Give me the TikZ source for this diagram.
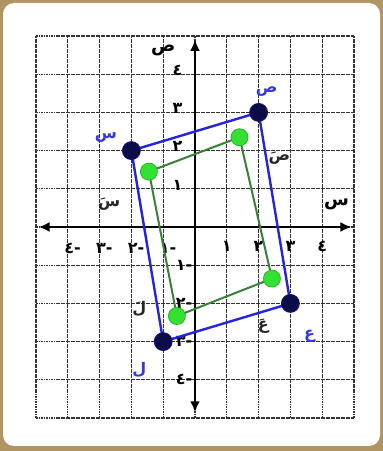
\documentclass[tikz,border=0pt]{standalone}
\usepackage{fontspec}
\usepackage{tikz}
\usetikzlibrary{arrows.meta}
\TeXXeTstate=1
\newfontfamily\arabicfont[Script=Arabic]{DejaVu Sans Bold}
\newcommand{\artext}[1]{{\arabicfont\beginR #1\endR}}
\definecolor{framebrown}{RGB}{176,148,98}
\definecolor{polyblue}{RGB}{35,35,225}
\definecolor{labelblue}{RGB}{55,55,220}
\definecolor{polygreen}{RGB}{55,130,55}
\definecolor{ptgreen}{RGB}{50,225,50}
\definecolor{ptnavy}{RGB}{12,12,70}

\begin{document}
\begin{tikzpicture}[
			x=1pt, y=1pt,
			every node/.style={font=\fontsize{16}{16}\selectfont, inner sep=0pt},
			gridline/.style={draw=black!80, line width=1.3pt, dash pattern=on 1.6pt off 0.9pt},
			axis/.style={{Latex[length=11pt,width=10pt]}-{Latex[length=11pt,width=10pt]}, line width=2.3pt},
			bluepoly/.style={draw=polyblue, line width=2.4pt, line join=round},
			greenpoly/.style={draw=polygreen, line width=2pt, line join=round},
			bluept/.style={circle, fill=ptnavy, draw=polyblue!60!black, line width=0.8pt, minimum size=18pt},
			greenpt/.style={circle, fill=ptgreen, draw=ptgreen!80!black, line width=0.8pt, minimum size=17pt},
			bluelbl/.style={text=labelblue},
			blacklbl/.style={text=black!85}
			]
			
			\fill[framebrown] (0,0) rectangle (383,451);
			\fill[white, rounded corners=11pt] (3,5) rectangle (380,448);
			
			\begin{scope}[shift={(195,224)}, x=31.8pt, y=38.2pt]
				\foreach \i in {-5,...,5} {
					\draw[gridline] (\i,-5) -- (\i,5);
					\draw[gridline] (-5,\i) -- (5,\i);
				}
				
				\coordinate (xl) at (-4.92,0);
				\coordinate (xr) at (4.92,0);
				\coordinate (yb) at (0,-4.85);
				\coordinate (yt) at (0,4.9);
				\draw[axis] (xl) -- (xr);
				\draw[axis] (yb) -- (yt);
				
				\node[font=\fontsize{18}{18}\selectfont] (xname) at (4.45,0.6) {\artext{س}};
				\node[font=\fontsize{18}{18}\selectfont] (yname) at (-1,4.62) {\artext{ص}};
				
				\foreach \k/\d in {1/١,2/٢,3/٣,4/٤} {
					\node (xp\k) at (\k,-0.5) {\artext{\d}};
					\node (xn\k) at (-\k+0.15,-0.55) {\artext{-\d}};
					\node (yp\k) at (-0.55,\k+0.1) {\artext{\d}};
					\node[anchor=east] (yn\k) at (-0.08,-\k) {\artext{-\d}};
				}
				
				\coordinate (S) at (-2,2);
				\coordinate (Sad) at (2,3);
				\coordinate (Ain) at (3,-2);
				\coordinate (Lam) at (-1,-3);
				\coordinate (S2) at (-1.45,1.45);
				\coordinate (Sad2) at (1.4,2.35);
				\coordinate (Ain2) at (2.42,-1.35);
				\coordinate (Lam2) at (-0.57,-2.33);
				
				\draw[greenpoly] (S2) -- (Sad2) -- (Ain2) -- (Lam2) -- cycle;
				\draw[bluepoly] (S) -- (Sad) -- (Ain) -- (Lam) -- cycle;
				
				\node[greenpt] (S2pt) at (S2) {};
				\node[greenpt] (Sad2pt) at (Sad2) {};
				\node[greenpt] (Ain2pt) at (Ain2) {};
				\node[greenpt] (Lam2pt) at (Lam2) {};
				\node[bluept] (Spt) at (S) {};
				\node[bluept] (Sadpt) at (Sad) {};
				\node[bluept] (Ainpt) at (Ain) {};
				\node[bluept] (Lampt) at (Lam) {};
				
				\node[bluelbl] (Slbl) at (-2.8,2.35) {\artext{س}};
				\node[bluelbl] (Sadlbl) at (2.25,3.55) {\artext{ص}};
				\node[bluelbl] (Ainlbl) at (3.6,-2.85) {\artext{ع}};
				\node[bluelbl] (Lamlbl) at (-1.75,-3.75) {\artext{ل}};
				
				\node[blacklbl] (S2lbl) at (-2.7,0.6) {\artext{سَ}};
				\node[blacklbl] (Sad2lbl) at (2.65,1.8) {\artext{صَ}};
				\node[blacklbl] (Ain2lbl) at (2.15,-2.6) {\artext{عَ}};
				\node[blacklbl] (Lam2lbl) at (-1.75,-2.15) {\artext{لَ}};
			\end{scope}
			
		\end{tikzpicture}
\end{document}
